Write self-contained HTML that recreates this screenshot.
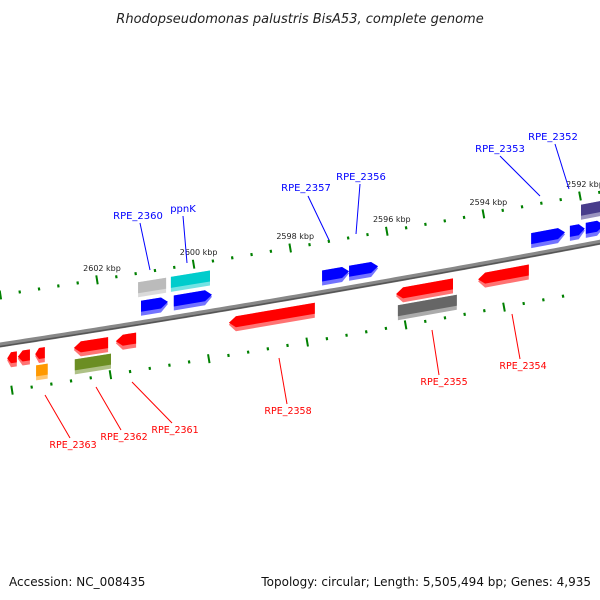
<!DOCTYPE html>
<html><head><meta charset="utf-8">
<style>
html,body{margin:0;padding:0;background:#fff;}
svg{display:block;font-family:"DejaVu Sans","Liberation Sans",sans-serif;}
</style></head>
<body>
<svg id="map" width="600" height="600" viewBox="0 0 600 600" xmlns="http://www.w3.org/2000/svg">
<text x="300" y="23" text-anchor="middle" font-size="13" font-style="italic" fill="#222">Rhodopseudomonas palustris BisA53, complete genome</text>
<text x="9" y="586" font-size="12" fill="#111">Accession: NC_008435</text>
<text x="591" y="586" text-anchor="end" font-size="12" fill="#111">Topology: circular; Length: 5,505,494 bp; Genes: 4,935</text>
<g id="ticks"></g>
<g id="backbone"></g>
<g id="genes"></g>
<g id="labels"></g>
</svg>
<script>
// data
const outerMajorKbp = [2604, 2602, 2600, 2598, 2596, 2594, 2592];
const outerTickLabels = ["", "2602 kbp", "2600 kbp", "2598 kbp", "2596 kbp", "2594 kbp", "2592 kbp"];
const innerMajorKbp = [2604, 2602, 2600, 2598, 2596, 2594];
const geneNames = ["RPE_2360g","ppnKc","RPE_2360","ppnK","RPE_2357","RPE_2356","RPE_2353","RPE_2352","RPE_2351","RPE_2351p",
  "RPE_2358","RPE_2355","RPE_2355g","RPE_2354","RPE_2362","RPE_2361","RPE_2362o","RPE_2365","RPE_2364","RPE_2363","RPE_2363o"];
const geneStart = [2601.15,2600.47,2601.09,2600.41,2597.34,2596.78,2593.01,2592.21,2591.88,2591.98,
  2599.27,2595.81,2595.77,2594.11,2602.48,2601.61,2602.46,2603.86,2603.64,2603.28,2603.26];
const geneEnd = [2600.57,2599.66,2600.53,2599.62,2596.78,2596.18,2592.31,2591.90,2591.50,2591.50,
  2597.49,2594.63,2594.55,2593.06,2601.77,2601.19,2601.71,2603.66,2603.39,2603.08,2603.02];
const geneStrand = [0,0,1,1,1,1,1,1,1,0,-1,-1,0,-1,-1,-1,0,-1,-1,-1,0];
const geneLane = [2,2,1,1,1,1,1,1,1,2,-1,-1,-2,-1,-1,-1,-2,-1,-1,-1,-2];
const geneColor = ["#bbbbbb","#00cccc","#0000ff","#0000ff","#0000ff","#0000ff","#0000ff","#0000ff","#0000ff","#483d8b",
  "#ff0000","#ff0000","#666666","#ff0000","#ff0000","#ff0000","#6b8e23","#ff0000","#ff0000","#ff0000","#ff9900"];
const labelText = ["RPE_2360","ppnK","RPE_2357","RPE_2356","RPE_2353","RPE_2352","RPE_2358","RPE_2355","RPE_2354","RPE_2361","RPE_2362","RPE_2363"];
const labelSide = [1,1,1,1,1,1,-1,-1,-1,-1,-1,-1];

// layout (label placement, not data)
const labelLayout = [
 [138,219,140,223,150,270],[183,212,183,216,187,263],[306,191,308,196,329,240],
 [361,180,360,184,356,234],[500,152,500,156,540,196],[553,140,555,144,569,189],
 [288,414,287,404,279,358],[444,385,439,375,432,330],[523,369,520,359,512,314],
 [175,433,172,423,132,382],[124,440,121,430,96,387],[73,448,70,438,45,395]];

const NS="http://www.w3.org/2000/svg";
function mk(tag,attrs,parent){const e=document.createElementNS(NS,tag);for(const k in attrs)e.setAttribute(k,attrs[k]);parent.appendChild(e);return e;}
function xOf(k){return 580+(2592-k)*48.3;}
function xIn(k){return 12+(2604-k)*49.2;}
function yb(x){return 345-0.1533*x-0.00003*x*x;}
function slope(x){return -0.1533-0.00006*x;}

// backbone
const bb=document.getElementById('backbone');
let d="";for(let x=-5;x<=605;x+=5){d+=(x===-5?"M":"L")+x+","+yb(x).toFixed(2);}
const b1=mk('path',{d:d,stroke:"#888",'stroke-width':5,fill:"none"},bb);


const b2=mk('path',{d:d,stroke:"#555",'stroke-width':1.5,fill:"none",transform:"translate(0,1.5)"},bb);



// ticks
const tg=document.getElementById('ticks');
function tick(x,off,major,name){
  const y=yb(x)+off, s=slope(x);
  const len=major?4.5:1.5;
  const nx=s/Math.sqrt(1+s*s), ny=-1/Math.sqrt(1+s*s);
  const l=mk('line',{x1:x-nx*len,y1:y-ny*len,x2:x+nx*len,y2:y+ny*len,stroke:"#008000",'stroke-width':major?2:2.2},tg);
  
  
}
for(let k=2604;k>=2591.5;k-=0.4){const kk=Math.round(k*10)/10;const maj=outerMajorKbp.some(m=>Math.abs(m-kk)<0.05);tick(xOf(kk),-50,maj,maj?'outer-major-tick':'outer-minor-tick');}
for(let k=2604;k>=2592.4;k-=0.4){const kk=Math.round(k*10)/10;const maj=innerMajorKbp.some(m=>Math.abs(m-kk)<0.05);tick(xIn(kk),47,maj,maj?'inner-major-tick':'inner-minor-tick');}
outerMajorKbp.forEach((k,i)=>{
  if(!outerTickLabels[i])return;
  const x=xOf(k);
  const t=mk('text',{x:x+5,y:yb(x)-59,'text-anchor':'middle','font-size':8,fill:"#222"},tg);
  t.textContent=outerTickLabels[i];
  
  
});

// genes
const gg=document.getElementById('genes');
const laneOff={2:[-41,-26],1:[-22,-7],"-1":[9,24],"-2":[26,41]};
function lighten(c){const n=parseInt(c.slice(1),16);let r=n>>16,g=(n>>8)&255,b=n&255;r=Math.round(r+(255-r)*0.45);g=Math.round(g+(255-g)*0.45);b=Math.round(b+(255-b)*0.45);return `rgb(${r},${g},${b})`;}
function pts(x1,x2,o1,o2,strand){
  const ah=Math.min(7,(x2-x1)*0.4);
  const p=[];
  const P=(x,o)=>p.push(x.toFixed(1)+","+(yb(x)+o).toFixed(1));
  if(strand===1){P(x1,o1);P(x2-ah,o1);P(x2,(o1+o2)/2);P(x2-ah,o2);P(x1,o2);}
  else if(strand===-1){P(x1,(o1+o2)/2);P(x1+ah,o1);P(x2,o1);P(x2,o2);P(x1+ah,o2);}
  else{P(x1,o1);P(x2,o1);P(x2,o2);P(x1,o2);}
  return p.join(" ");
}
geneNames.forEach((n,i)=>{
  let x1=xOf(geneStart[i]),x2=Math.min(xOf(geneEnd[i]),606);
  const [o1,o2]=laneOff[geneLane[i]];
  const g=mk('g',{},gg);
  
  
  mk('polygon',{points:pts(x1,x2,o1,o2,geneStrand[i]),fill:lighten(geneColor[i])},g);
  mk('polygon',{points:pts(x1,x2,o1,o2-4,geneStrand[i]),fill:geneColor[i]},g);
});

// labels
const lg=document.getElementById('labels');
labelText.forEach((t,i)=>{
  const up=labelSide[i]===1;
  const col=up?"#0000ff":"#ff0000";
  const L=labelLayout[i];
  const l=mk('line',{x1:L[2],y1:L[3],x2:L[4],y2:L[5],stroke:col,'stroke-width':1},lg);
  
  
  const tx=mk('text',{x:L[0],y:L[1],'text-anchor':'middle','font-size':up?10:9.5,fill:col},lg);
  tx.textContent=t;
  
  
});
</script>
</body></html>
